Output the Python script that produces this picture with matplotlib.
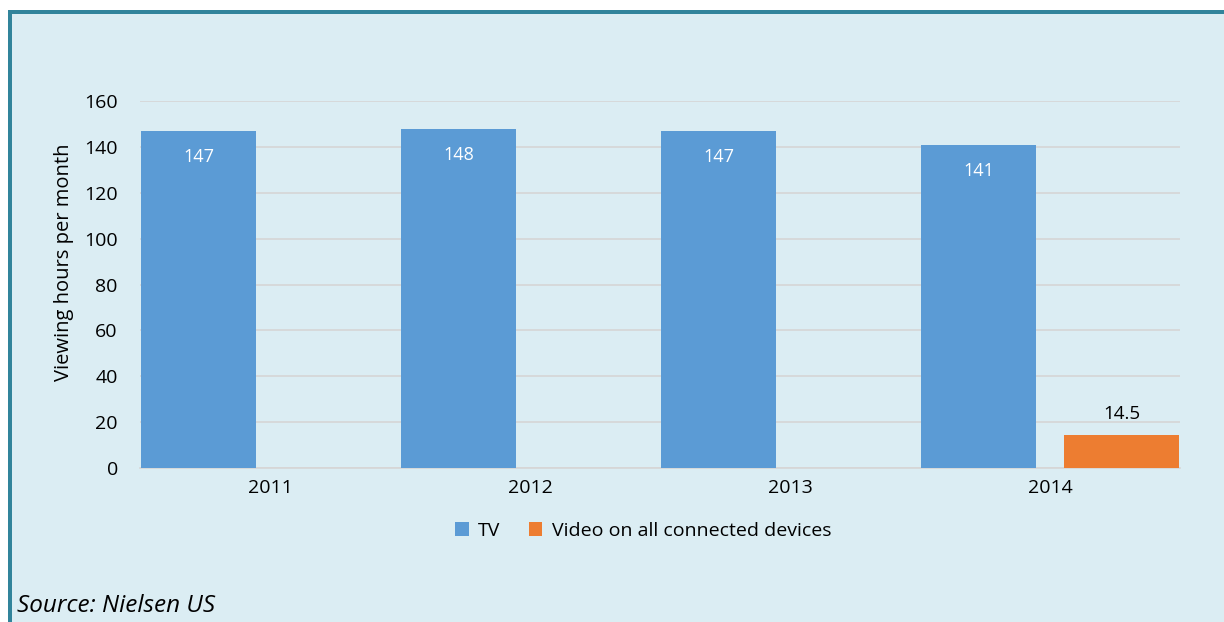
import numpy as np
import matplotlib.pyplot as plt
from matplotlib.patches import Rectangle

plt.rcParams['font.family'] = ['Open Sans', 'DejaVu Sans']

# Data
years = ['2011', '2012', '2013', '2014']
tv_hours = [147, 148, 147, 141]
video_hours = [0, 0, 0, 14.5]

bg = '#DBEDF3'
blue = '#5B9BD5'
orange = '#ED7D31'
border = '#31849B'

fig = plt.figure(figsize=(12.24, 6.22), dpi=100, facecolor='white')

# Panel background and border (top and left edges)
fig.patches.append(Rectangle((8/1224, 0), 1, 1 - 10/622, transform=fig.transFigure,
                             facecolor=bg, edgecolor='none', zorder=-3))
fig.patches.append(Rectangle((8/1224, 1 - 14/622), 1, 4/622, transform=fig.transFigure,
                             facecolor=border, edgecolor='none', zorder=-2))
fig.patches.append(Rectangle((8/1224, 0), 4/1224, 1 - 10/622, transform=fig.transFigure,
                             facecolor=border, edgecolor='none', zorder=-2))

ax = fig.add_axes([140/1224, 1 - 468/622, 1040/1224, 367/622])
ax.set_facecolor('none')
ax.set_zorder(2)

x = np.arange(len(years))
w = 0.442
off = 0.275
b1 = ax.bar(x - off, tv_hours, w, color=blue, label='TV', zorder=3)
b2 = ax.bar(x + off, video_hours, w, color=orange, label='Video on all connected devices', zorder=3)

for rect, v in zip(b1, tv_hours):
    ax.text(rect.get_x() + rect.get_width() / 2, v - 11.5, str(v), ha='center', va='center',
            color='white', fontsize=13)
for rect, v in zip(b2, video_hours):
    if v > 0:
        ax.text(rect.get_x() + rect.get_width() / 2, v + 9, str(v), ha='center', va='center',
                color='black', fontsize=13.5)

ax.set_xlim(-0.5, 3.5)
ax.set_ylim(0, 160)
ax.set_yticks(range(0, 161, 20))
ax.set_xticks(x)
ax.set_xticklabels(years)
ax.tick_params(axis='both', length=0, labelsize=14, pad=16)
ax.tick_params(axis='x', pad=8)
ax.grid(axis='y', color='#D6D6D6', linewidth=1.2, zorder=0)
for s in ['top', 'right', 'left']:
    ax.spines[s].set_visible(False)
ax.spines['bottom'].set_color('#D6D6D6')
ax.spines['bottom'].set_linewidth(1.2)
ax.set_ylabel('Viewing hours per month', fontsize=14.5)
ax.yaxis.set_label_coords(-0.0635, 0.561)

fig.legend(handles=[b1, b2], loc='center', bbox_to_anchor=(0.5256, 1 - 531/622), ncol=2,
           frameon=False, fontsize=14, handlelength=0.7, handleheight=0.7,
           handletextpad=0.5, columnspacing=1.45)

fig.text(17/1224, 1 - 606/622, 'Source: Nielsen US', fontsize=17.5, style='italic',
         ha='left', va='center')

plt.savefig('out.png', dpi=100, facecolor='white')
